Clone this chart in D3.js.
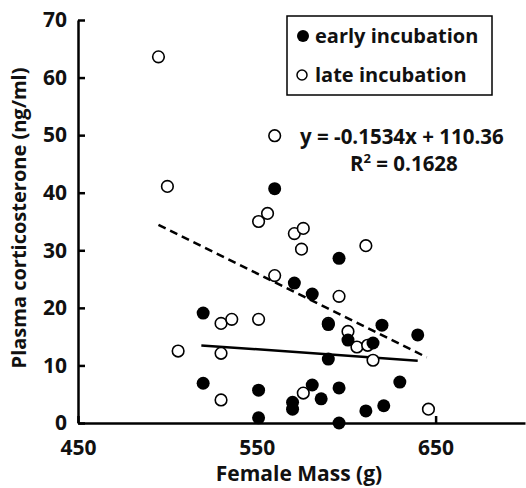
<!DOCTYPE html>
<html lang="en">
<head>
  <meta charset="UTF-8">
  <title>Corticosterone vs mass</title>
  <script type="text/javascript" src="https://d3js.org/d3.v7.min.js"></script>
  <style>
    body { margin: 0; background: #fff; }
    text { font-family: "Open Sans", sans-serif; font-weight: bold; fill: #111; }
    .axis path, .axis line { stroke: #000; stroke-width: 2.5; }
    .axis text { font-size: 21px; }
  </style>
</head>
<body>
  <svg width="526" height="488"></svg>
</body>
<script type="text/javascript">
// early incubation birds (filled)
var earlyMass = [560, 520, 520, 551, 551, 571, 581, 581, 570, 570, 586, 596, 590, 601, 615, 590, 620, 640, 596, 630, 611, 621, 596];
var earlyCort = [40.7, 19.1, 6.9, 5.7, 0.9, 24.3, 22.4, 6.6, 3.6, 2.4, 4.2, 28.6, 17.1, 14.4, 13.9, 11.1, 17.0, 15.3, 6.1, 7.1, 2.1, 3.0, 0];

// late incubation birds (open)
var lateMass = [495, 500, 560, 506, 530, 530, 530, 536, 551, 551, 556, 571, 576, 575, 560, 576, 611, 596, 590, 601, 606, 612, 615, 646];
var lateCort = [63.6, 41.1, 49.9, 12.5, 12.1, 4.0, 17.3, 18.0, 18.0, 35.0, 36.4, 32.9, 33.8, 30.2, 25.6, 5.2, 30.8, 22.0, 17.3, 15.9, 13.2, 13.5, 10.9, 2.4];

var xTicks = [450, 550, 650];
var yTicks = [0, 10, 20, 30, 40, 50, 60, 70];

// trend lines
var lateFit = { slope: -0.1534, icpt: 110.36, from: 495, to: 645 };
var earlyFit = { slope: -0.022, icpt: 24.9, from: 519, to: 640 };

var svg = d3.select("svg");
var x = d3.scaleLinear().domain([450, 700]).range([78, 525]);
var y = d3.scaleLinear().domain([0, 70]).range([423, 20]);

// axes, ticks point inward
svg.append("g")
  .attr("class", "axis")
  .attr("transform", "translate(0,423)")
  .call(d3.axisBottom(x).tickValues(xTicks).tickSizeInner(-7).tickSizeOuter(0).tickPadding(13))
  .selectAll("text").attr("dy", "0.9em");

svg.append("g")
  .attr("class", "axis")
  .attr("transform", "translate(78,0)")
  .call(d3.axisLeft(y).tickValues(yTicks).tickSizeInner(-7).tickSizeOuter(0).tickPadding(11));

svg.selectAll(".axis .domain").attr("stroke-width", 3);

// regression lines
function fitLine(f, dash) {
  svg.append("line")
    .attr("x1", x(f.from)).attr("y1", y(f.slope * f.from + f.icpt))
    .attr("x2", x(f.to)).attr("y2", y(f.slope * f.to + f.icpt))
    .attr("stroke", "#000").attr("stroke-width", 2.5)
    .attr("stroke-dasharray", dash);
}
fitLine(lateFit, "8,5");
fitLine(earlyFit, null);

var late = d3.zip(lateMass, lateCort);
var early = d3.zip(earlyMass, earlyCort);

svg.append("g").selectAll("circle").data(late).join("circle")
  .attr("cx", d => x(d[0])).attr("cy", d => y(d[1])).attr("r", 5.8)
  .attr("fill", "#fff").attr("stroke", "#000").attr("stroke-width", 1.6);

svg.append("g").selectAll("circle").data(early).join("circle")
  .attr("cx", d => x(d[0])).attr("cy", d => y(d[1])).attr("r", 6.5)
  .attr("fill", "#000");

// axis titles
svg.append("text").attr("x", 299).attr("y", 481).attr("text-anchor", "middle")
  .style("font-size", "21px").text("Female Mass (g)");
svg.append("text").attr("transform", "translate(26,218) rotate(-90)").attr("text-anchor", "middle")
  .style("font-size", "20px").text("Plasma corticosterone (ng/ml)");

// legend
var lg = svg.append("g");
lg.append("rect").attr("x", 287).attr("y", 16).attr("width", 205).attr("height", 79)
  .attr("fill", "#fff").attr("stroke", "#000").attr("stroke-width", 1.5);
lg.append("circle").attr("cx", 303).attr("cy", 36).attr("r", 6).attr("fill", "#000");
lg.append("circle").attr("cx", 302).attr("cy", 75).attr("r", 5).attr("fill", "#fff").attr("stroke", "#000").attr("stroke-width", 1.5);
lg.append("text").attr("x", 315).attr("y", 43).style("font-size", "20px").text("early incubation");
lg.append("text").attr("x", 315).attr("y", 82).style("font-size", "20px").text("late incubation");

// equation
svg.append("text").attr("x", 300).attr("y", 144).style("font-size", "20.5px").text("y = -0.1534x + 110.36");
svg.append("text").attr("x", 350).attr("y", 171).style("font-size", "20.5px")
  .html('R<tspan dy="-8" font-size="13px">2</tspan><tspan dy="8"> = 0.1628</tspan>');
</script>
</html>
